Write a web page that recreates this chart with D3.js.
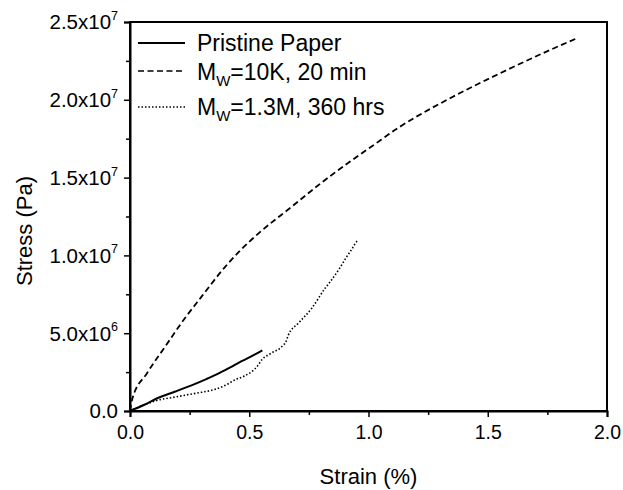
<!DOCTYPE html>
<html>
<head>
<meta charset="utf-8">
<script src="https://cdn.jsdelivr.net/npm/d3@7"></script>
<style>
  body { margin: 0; background: #fff; }
  svg text { font-family: "Liberation Sans", Arial, sans-serif; fill: #000; }
</style>
</head>
<body>
<div id="chart"></div>
<script>
// strain (%) and stress (in units of 1e7 Pa)
var pristineStrain = [0, 0.06, 0.119, 0.19, 0.258, 0.32, 0.37, 0.42, 0.468, 0.52, 0.555];
var pristineStress = [0, 0.04, 0.085, 0.125, 0.165, 0.205, 0.24, 0.28, 0.32, 0.36, 0.39];

var k10Strain = [0, 0.01, 0.07, 0.147, 0.23, 0.30, 0.398, 0.461, 0.538, 0.678, 0.818, 0.92, 1.013, 1.132, 1.342, 1.551, 1.761, 1.873];
var k10Stress = [0, 0.08, 0.24, 0.413, 0.596, 0.735, 0.925, 1.03, 1.14, 1.313, 1.485, 1.60, 1.70, 1.827, 2.01, 2.17, 2.32, 2.395];

var m13Strain = [0, 0.06, 0.119, 0.19, 0.258, 0.30, 0.356, 0.40, 0.44, 0.48, 0.51, 0.535, 0.552, 0.59, 0.636, 0.655, 0.664, 0.706, 0.762, 0.818, 0.839, 0.88, 0.908, 0.93, 0.95, 0.958];
var m13Stress = [0, 0.04, 0.07, 0.09, 0.109, 0.12, 0.139, 0.165, 0.20, 0.225, 0.253, 0.29, 0.328, 0.37, 0.413, 0.45, 0.488, 0.564, 0.66, 0.789, 0.83, 0.92, 0.99, 1.04, 1.088, 1.10];

var seriesNames = ["Pristine Paper", "=10K, 20 min", "=1.3M, 360 hrs"];
var xTicks = [0, 0.5, 1.0, 1.5, 2.0];
var yTicks = [0, 0.5, 1.0, 1.5, 2.0, 2.5];
var yTickMantissa = ["0.0", "5.0x10", "1.0x10", "1.5x10", "2.0x10", "2.5x10"];
var yTickExp = ["", "6", "7", "7", "7", "7"];

var width = 623, height = 490;
var plotL = 130, plotR = 607, plotT = 22, plotB = 411;

var svg = d3.select("#chart").append("svg")
    .attr("width", width)
    .attr("height", height);

var xScale = d3.scaleLinear().domain([0, 2]).range([plotL, plotR]);
var yScale = d3.scaleLinear().domain([0, 2.5]).range([plotB, plotT]);

// frame
svg.append("rect")
    .attr("x", plotL).attr("y", plotT)
    .attr("width", plotR - plotL).attr("height", plotB - plotT)
    .attr("fill", "none").attr("stroke", "#000").attr("stroke-width", 2);

// x axis
var xMinor = d3.range(0.25, 2, 0.5);
svg.append("g")
    .attr("transform", "translate(0," + plotB + ")")
    .call(d3.axisBottom(xScale).tickValues(xMinor).tickSize(4).tickFormat(""))
    .call(function(g) { g.select(".domain").remove(); })
    .selectAll("line").attr("stroke-width", 1.5);
var xAxis = svg.append("g")
    .attr("transform", "translate(0," + plotB + ")")
    .call(d3.axisBottom(xScale).tickValues(xTicks).tickSize(6).tickPadding(8).tickFormat(d3.format(".1f")));
xAxis.select(".domain").attr("stroke-width", 2);
xAxis.selectAll("line").attr("stroke-width", 1.5);
xAxis.selectAll("text").attr("font-size", 19.5).attr("font-family", "Liberation Sans, Arial, sans-serif");

// y axis
var yMinor = d3.range(0.25, 2.5, 0.5);
svg.append("g")
    .attr("transform", "translate(" + plotL + ",0)")
    .call(d3.axisLeft(yScale).tickValues(yMinor).tickSize(4).tickFormat(""))
    .call(function(g) { g.select(".domain").remove(); })
    .selectAll("line").attr("stroke-width", 1.5);
var yAxis = svg.append("g")
    .attr("transform", "translate(" + plotL + ",0)")
    .call(d3.axisLeft(yScale).tickValues(yTicks).tickSize(6).tickFormat(""));
yAxis.select(".domain").attr("stroke-width", 2);
yAxis.selectAll("line").attr("stroke-width", 1.5);

var yLab = svg.append("g").selectAll("text")
    .data(yTicks)
    .join("text")
    .attr("x", plotL - 12)
    .attr("y", function(d) { return yScale(d); })
    .attr("dy", "0.36em")
    .attr("text-anchor", "end")
    .attr("font-size", 20.5);
yLab.append("tspan").text(function(d, i) { return yTickMantissa[i]; });
yLab.append("tspan")
    .attr("font-size", 12.5)
    .attr("dy", "-0.75em")
    .text(function(d, i) { return yTickExp[i]; });

// axis titles
svg.append("text")
    .attr("x", (plotL + plotR) / 2)
    .attr("y", 484)
    .attr("text-anchor", "middle")
    .attr("font-size", 22)
    .text("Strain (%)");
svg.append("text")
    .attr("transform", "translate(32,231) rotate(-90)")
    .attr("text-anchor", "middle")
    .attr("font-size", 22)
    .text("Stress (Pa)");

// curves
function toPoints(xs, ys) {
    return xs.map(function(x, i) { return [x, ys[i]]; });
}
var line = d3.line()
    .x(function(d) { return xScale(d[0]); })
    .y(function(d) { return yScale(d[1]); })
    .curve(d3.curveMonotoneX);

var styles = [
    { dash: null, w: 2 },
    { dash: "6,3.5", w: 1.8 },
    { dash: "1.5,2", w: 1.6 }
];
var series = [
    toPoints(pristineStrain, pristineStress),
    toPoints(k10Strain, k10Stress),
    toPoints(m13Strain, m13Stress)
];

svg.append("g").selectAll("path")
    .data(series)
    .join("path")
    .attr("d", line)
    .attr("fill", "none")
    .attr("stroke", "#000")
    .attr("stroke-width", function(d, i) { return styles[i].w; })
    .attr("stroke-dasharray", function(d, i) { return styles[i].dash; });

// legend
var legY = [43, 71, 107];
var legBase = [51, 80, 115];
var leg = svg.append("g");
leg.selectAll("line")
    .data(seriesNames)
    .join("line")
    .attr("x1", 138).attr("x2", 185)
    .attr("y1", function(d, i) { return legY[i]; })
    .attr("y2", function(d, i) { return legY[i]; })
    .attr("stroke", "#000")
    .attr("stroke-width", function(d, i) { return styles[i].w - 0.2; })
    .attr("stroke-dasharray", function(d, i) { return styles[i].dash; });
var legText = leg.selectAll("text")
    .data(seriesNames)
    .join("text")
    .attr("x", 197)
    .attr("y", function(d, i) { return legBase[i]; })
    .attr("font-size", 23);
legText.each(function(d, i) {
    var t = d3.select(this);
    if (i === 0) { t.text(d); return; }
    t.append("tspan").text("M");
    t.append("tspan").attr("font-size", 15).attr("dy", 6).text("W");
    t.append("tspan").attr("dy", -6).text(d);
});
</script>
</body>
</html>
